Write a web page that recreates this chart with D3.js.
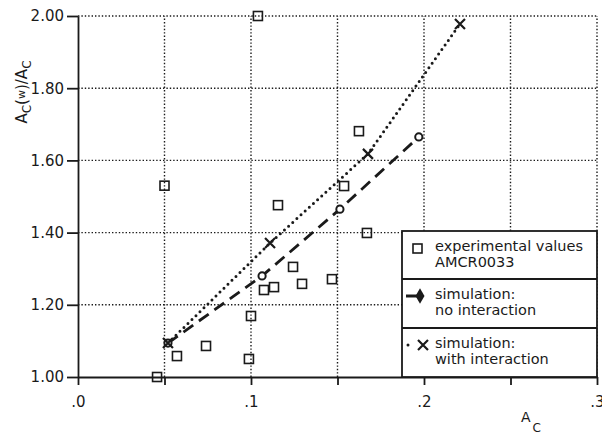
<!DOCTYPE html>
<html>
<head>
<meta charset="utf-8">
<script src="https://cdn.jsdelivr.net/npm/d3@7"></script>
<style>
body { margin: 0; background: #fff; }
text { font-family: "DejaVu Sans", sans-serif; fill: #1a1a1a; }
</style>
</head>
<body>
<div id="chart"></div>
<script>
// experimental values AMCR0033
var expX = [0.0457, 0.050, 0.0572, 0.074, 0.0988, 0.100, 0.104, 0.1075, 0.1133, 0.1156, 0.1243, 0.1295, 0.1468, 0.1538, 0.1624, 0.167];
var expY = [1.00, 1.53, 1.058, 1.086, 1.050, 1.169, 2.00, 1.241, 1.249, 1.476, 1.305, 1.258, 1.271, 1.529, 1.681, 1.399];

// simulation: no interaction
var noIntX = [0.052, 0.1064, 0.1514, 0.197];
var noIntY = [1.094, 1.28, 1.465, 1.665];

// simulation: with interaction
var withIntX = [0.052, 0.111, 0.1676, 0.2208];
var withIntY = [1.094, 1.371, 1.618, 1.978];

var xTicks = [0, 0.05, 0.1, 0.15, 0.2, 0.25, 0.3];
var yTicks = [1.0, 1.2, 1.4, 1.6, 1.8, 2.0];

var legendLabels = [["experimental values", "AMCR0033"], ["simulation:", "no interaction"], ["simulation:", "with interaction"]];

var W = 602, H = 434;
var margin = {top: 16, right: 5, bottom: 57, left: 78};

var svg = d3.select("#chart").append("svg")
  .attr("width", W).attr("height", H);

var x = d3.scaleLinear().domain([0, 0.3]).range([margin.left, W - margin.right]);
var y = d3.scaleLinear().domain([1, 2]).range([H - margin.bottom, margin.top]);

var ink = "#1a1a1a";

// grid
svg.append("g").selectAll("line").data(yTicks.slice(1)).enter().append("line")
  .attr("x1", x(0)).attr("x2", x(0.3))
  .attr("y1", function(d) { return y(d); }).attr("y2", function(d) { return y(d); })
  .attr("stroke", ink).attr("stroke-width", 1.4).attr("stroke-dasharray", "1.4,2");

svg.append("g").selectAll("line").data(xTicks.slice(1)).enter().append("line")
  .attr("y1", y(1)).attr("y2", y(2))
  .attr("x1", function(d) { return x(d); }).attr("x2", function(d) { return x(d); })
  .attr("stroke", ink).attr("stroke-width", 1.4).attr("stroke-dasharray", "1.4,2");

// axes
var yAxis = svg.append("g")
  .attr("transform", "translate(" + x(0) + ",0)")
  .call(d3.axisLeft(y).tickValues(yTicks).tickFormat(d3.format(".2f")).tickSize(11).tickPadding(3).tickSizeOuter(0));
var xAxis = svg.append("g")
  .attr("transform", "translate(0," + y(1) + ")")
  .call(d3.axisBottom(x).tickValues(xTicks).tickSize(8).tickPadding(11).tickSizeOuter(0)
    .tickFormat(function(d) {
      var k = Math.round(d * 10);
      return Math.abs(d * 10 - k) < 1e-6 ? "." + k : "";
    }));

[xAxis, yAxis].forEach(function(g) {
  g.attr("font-family", "DejaVu Sans").attr("font-size", 15);
  g.selectAll("path, line").attr("stroke", ink).attr("stroke-width", 1.8);
  g.selectAll("text").attr("fill", ink);
});

// lines
var line = d3.line()
  .x(function(d) { return x(d[0]); }).y(function(d) { return y(d[1]); });

var noInt = noIntX.map(function(v, i) { return [v, noIntY[i]]; });
var withInt = withIntX.map(function(v, i) { return [v, withIntY[i]]; });

svg.append("path").datum(noInt).attr("d", line)
  .attr("fill", "none").attr("stroke", ink).attr("stroke-width", 2.8)
  .attr("stroke-dasharray", "12,7");

svg.append("path").datum(withInt).attr("d", line)
  .attr("fill", "none").attr("stroke", ink).attr("stroke-width", 3)
  .attr("stroke-linecap", "round").attr("stroke-dasharray", "0,5.6");

// markers
svg.append("g").selectAll("circle").data(noInt).enter().append("circle")
  .attr("cx", function(d) { return x(d[0]); }).attr("cy", function(d) { return y(d[1]); })
  .attr("r", 3.6).attr("fill", "#fff").attr("stroke", ink).attr("stroke-width", 2);

function xMark(sel) {
  sel.append("path").attr("d", "M-5,-5L5,5M-5,5L5,-5")
    .attr("stroke", ink).attr("stroke-width", 2.2).attr("fill", "none");
}
svg.append("g").selectAll("g").data(withInt).enter().append("g")
  .attr("transform", function(d) { return "translate(" + x(d[0]) + "," + y(d[1]) + ")"; })
  .call(xMark);

svg.append("g").selectAll("rect").data(expX).enter().append("rect")
  .attr("x", function(d) { return x(d) - 4.5; })
  .attr("y", function(d, i) { return y(expY[i]) - 4.5; })
  .attr("width", 9).attr("height", 9)
  .attr("fill", "none").attr("stroke", ink).attr("stroke-width", 1.6);

// axis titles
var yt = svg.append("text")
  .attr("transform", "translate(27,92) rotate(-90)")
  .attr("text-anchor", "middle").attr("font-size", 15);
yt.append("tspan").text("A");
yt.append("tspan").attr("dy", 4).attr("font-size", 12).text("C");
yt.append("tspan").attr("dy", -4).text("(");
yt.append("tspan").attr("dy", -2).attr("font-size", 11).text("w");
yt.append("tspan").attr("dy", 2).text(")/A");
yt.append("tspan").attr("dy", 4).attr("font-size", 12).text("C");

var xt = svg.append("text").attr("x", 521).attr("y", 422).attr("font-size", 14);
xt.append("tspan").text("A");
xt.append("tspan").attr("dx", 2).attr("dy", 10).attr("font-size", 12).text("C");

// legend
var lg = {x0: 402, x1: 597, y0: 231, y1: 377, rows: [231, 279, 328]};
svg.append("rect").attr("x", lg.x0).attr("y", lg.y0)
  .attr("width", lg.x1 - lg.x0).attr("height", lg.y1 - lg.y0)
  .attr("fill", "#fff").attr("stroke", ink).attr("stroke-width", 1.8);
lg.rows.slice(1).forEach(function(r) {
  svg.append("line").attr("x1", lg.x0).attr("x2", lg.x1).attr("y1", r).attr("y2", r)
    .attr("stroke", ink).attr("stroke-width", 1.8);
});

legendLabels.forEach(function(lines, i) {
  lines.forEach(function(s, j) {
    svg.append("text").attr("x", 435).attr("y", lg.rows[i] + 20 + j * 16)
      .attr("font-size", 14.5).text(s);
  });
});

svg.append("rect").attr("x", 413).attr("y", 244).attr("width", 9).attr("height", 9)
  .attr("fill", "none").attr("stroke", ink).attr("stroke-width", 1.6);

svg.append("line").attr("x1", 406).attr("x2", 420).attr("y1", 296).attr("y2", 296)
  .attr("stroke", ink).attr("stroke-width", 3);
svg.append("path").attr("transform", "translate(420,296)")
  .attr("d", d3.symbol().type(d3.symbolDiamond).size(70)).attr("fill", ink);

svg.append("circle").attr("cx", 408).attr("cy", 345).attr("r", 1.5).attr("fill", ink);
svg.append("g").attr("transform", "translate(423,345)").call(xMark);
</script>
</body>
</html>
